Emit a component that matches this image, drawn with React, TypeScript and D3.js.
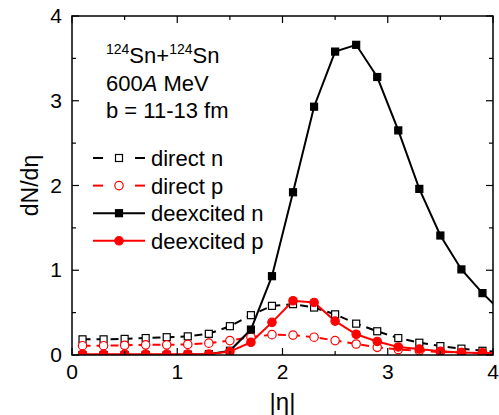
import React from "react";
import * as d3 from "d3";

const etaValues = [0.1, 0.3, 0.5, 0.7, 0.9, 1.1, 1.3, 1.5, 1.7, 1.9, 2.1, 2.3, 2.5, 2.7, 2.9, 3.1, 3.3, 3.5, 3.7, 3.9, 4.1];
const directN = [0.185, 0.185, 0.19, 0.2, 0.21, 0.22, 0.25, 0.34, 0.47, 0.58, 0.6, 0.56, 0.48, 0.37, 0.28, 0.2, 0.145, 0.105, 0.075, 0.05, 0.035];
const directP = [0.11, 0.11, 0.115, 0.12, 0.12, 0.125, 0.14, 0.17, 0.21, 0.24, 0.235, 0.21, 0.17, 0.13, 0.09, 0.065, 0.05, 0.035, 0.03, 0.02, 0.015];
const deexcitedN = [0.0, 0.0, 0.0, 0.0, 0.0, 0.005, 0.01, 0.05, 0.3, 0.93, 1.92, 2.93, 3.58, 3.66, 3.28, 2.65, 1.96, 1.41, 1.01, 0.73, 0.49];
const deexcitedP = [0.01, 0.01, 0.01, 0.01, 0.01, 0.01, 0.01, 0.04, 0.15, 0.385, 0.64, 0.62, 0.4, 0.245, 0.16, 0.095, 0.07, 0.045, 0.03, 0.025, 0.02];

const xTicks = [0, 1, 2, 3, 4];
const yTicks = [0, 1, 2, 3, 4];
const legendLabels = ["direct n", "direct p", "deexcited n", "deexcited p"];

const W = 499, H = 415;
const L = 72, R = 493, T = 16, B = 355;
const FONT = "Liberation Sans, Arial, sans-serif";

export default function App() {
  const x = d3.scaleLinear().domain([0, 4]).range([L, R]);
  const y = d3.scaleLinear().domain([0, 4]).range([B, T]);
  const line = d3.line<[number, number]>().x(d => x(d[0])).y(d => y(d[1]));
  const pts = (vals: number[]) => etaValues.map((e, i) => [e, vals[i]] as [number, number]);
  const inView = (e: number) => e <= 4;

  const series = [
    { vals: directN, color: "#000", dash: "8,6", marker: "square", fill: "#fff" },
    { vals: directP, color: "#ff0000", dash: "8,6", marker: "circle", fill: "#fff" },
    { vals: deexcitedN, color: "#000", dash: null, marker: "square", fill: "#000" },
    { vals: deexcitedP, color: "#ff0000", dash: null, marker: "circle", fill: "#ff0000" },
  ];

  const marker = (s: any, cx: number, cy: number, key: any) =>
    s.marker === "square" ? (
      <rect key={key} x={cx - 3.5} y={cy - 3.5} width={7} height={7} fill={s.fill} stroke={s.color} strokeWidth={1.2} />
    ) : (
      <circle key={key} cx={cx} cy={cy} r={4.2} fill={s.fill} stroke={s.color} strokeWidth={1.2} />
    );

  const minor = d3.range(0, 4.01, 0.5);

  return (
    <svg width={W} height={H} style={{ position: "absolute", left: 0, top: 0 }} fontFamily={FONT}>
      <defs>
        <clipPath id="plot">
          <rect x={L} y={T - 10} width={R - L} height={B - T + 10} />
        </clipPath>
      </defs>
      <g clipPath="url(#plot)">
        {series.map((s, si) => (
          <path key={si} d={line(pts(s.vals)) || ""} fill="none" stroke={s.color} strokeWidth={2}
            strokeDasharray={s.dash || undefined} />
        ))}
        {series.map((s, si) => (
          <g key={"m" + si}>
            {pts(s.vals).filter(p => inView(p[0])).map((p, i) => marker(s, x(p[0]), y(p[1]), i))}
          </g>
        ))}
      </g>
      <rect x={L} y={T} width={R - L} height={B - T} fill="none" stroke="#000" strokeWidth={1.5} />
      {minor.map((v, i) => {
        const major = Math.abs(v - Math.round(v)) < 1e-6;
        const len = major ? 7 : 4;
        return (
          <g key={"t" + i} stroke="#000" strokeWidth={1.2}>
            <line x1={x(v)} x2={x(v)} y1={B} y2={B - len} />
            <line x1={x(v)} x2={x(v)} y1={T} y2={T + len} />
            <line x1={L} x2={L + len} y1={y(v)} y2={y(v)} />
            <line x1={R} x2={R - len} y1={y(v)} y2={y(v)} />
          </g>
        );
      })}
      {xTicks.map(v => (
        <text key={"xl" + v} x={x(v)} y={379} textAnchor="middle" fontSize={21}>{v}</text>
      ))}
      {yTicks.map(v => (
        <text key={"yl" + v} x={62} y={y(v) + 7} textAnchor="end" fontSize={21}>{v}</text>
      ))}
      <text x={x(2)} y={410} textAnchor="middle" fontSize={24}>|η|</text>
      <text transform={`translate(38,${(T + B) / 2}) rotate(-90)`} textAnchor="middle" fontSize={23}>dN/dη</text>
      <text x={106} y={63} fontSize={22}>
        <tspan fontSize={14} dy={-9}>124</tspan>
        <tspan dy={9}>Sn+</tspan>
        <tspan fontSize={14} dy={-9}>124</tspan>
        <tspan dy={9}>Sn</tspan>
      </text>
      <text x={106} y={91} fontSize={22}>600<tspan fontStyle="italic">A</tspan> MeV</text>
      <text x={106} y={118} fontSize={22}>b = 11-13 fm</text>
      {series.map((s, i) => {
        const ly = 158 + i * 27.6;
        return (
          <g key={"lg" + i}>
            {s.dash ? (
              <g stroke={s.color} strokeWidth={2}>
                <line x1={93} x2={103} y1={ly} y2={ly} />
                <line x1={135} x2={145} y1={ly} y2={ly} />
              </g>
            ) : (
              <line x1={93} x2={145} y1={ly} y2={ly} stroke={s.color} strokeWidth={2} />
            )}
            {s.marker === "square" ? (
              <rect x={119 - 3.5} y={ly - 3.5} width={7} height={7} fill={s.fill} stroke={s.color} strokeWidth={1.2} />
            ) : (
              <circle cx={119} cy={ly} r={4.2} fill={s.fill} stroke={s.color} strokeWidth={1.2} />
            )}
            <text x={151} y={ly + 8} fontSize={22}>{legendLabels[i]}</text>
          </g>
        );
      })}
    </svg>
  );
}
